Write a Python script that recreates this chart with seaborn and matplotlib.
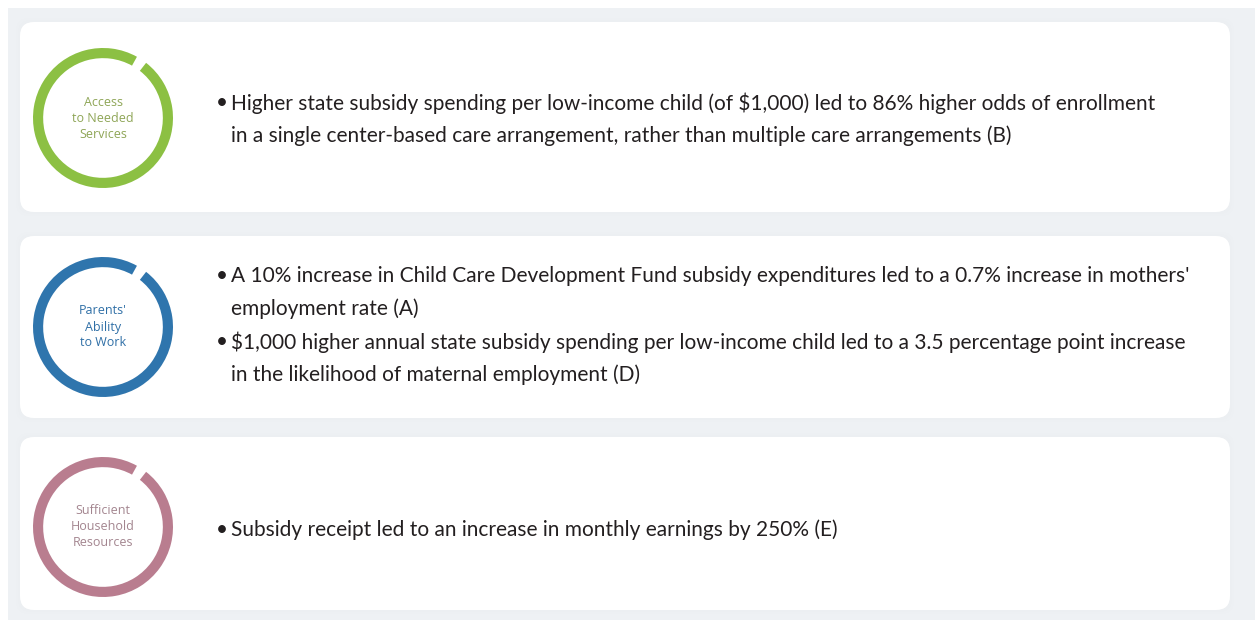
import matplotlib
matplotlib.use("Agg")
import matplotlib.pyplot as plt
import seaborn as sns
from matplotlib.patches import FancyBboxPatch, Rectangle

sns.set_theme(style="white")
plt.rcParams['font.family'] = ['Lato', 'DejaVu Sans']

# ---- data ----
categories = ["Access\nto Needed\nServices", "Parents'\nAbility\nto Work", "Sufficient\nHousehold\nResources"]
ring_fill = [0.975, 0.975, 0.975]   # filled share of each ring (small gap near the top)
ring_colors = ["#8cc043", "#2f75ad", "#b97d8f"]
label_colors = ["#8ea556", "#2f6fa6", "#a3858f"]
bullets = [
    ["Higher state subsidy spending per low-income child (of $1,000) led to 86% higher odds of enrollment\nin a single center-based care arrangement, rather than multiple care arrangements (B)"],
    ["A 10% increase in Child Care Development Fund subsidy expenditures led to a 0.7% increase in mothers'\nemployment rate (A)",
     "$1,000 higher annual state subsidy spending per low-income child led to a 3.5 percentage point increase\nin the likelihood of maternal employment (D)"],
    ["Subsidy receipt led to an increase in monthly earnings by 250% (E)"],
]

W, H = 1255, 624
fig = plt.figure(figsize=(W / 100, H / 100), dpi=100)
fig.patch.set_facecolor("white")
ax = fig.add_axes([0, 0, 1, 1])
ax.set_xlim(0, W)
ax.set_ylim(H, 0)
ax.axis("off")

# background
ax.add_patch(Rectangle((8, 8), W - 8, H - 12, facecolor="#eef1f4", edgecolor="none", zorder=0))

panels = [(22, 212), (236, 418), (437, 610)]
first_line_y = [103, 276, 530]
ring_cy = [118, 327, 527]
ring_cx = 103
R = 70
line_h = 33

for i, (top, bot) in enumerate(panels):
    # soft shadow
    for k in range(3):
        ax.add_patch(FancyBboxPatch((20 - k * 2, top - k * 2), 1210 + k * 4, (bot - top) + k * 4,
                                    boxstyle="round,pad=0,rounding_size=14",
                                    facecolor="#dde2e8", edgecolor="none", alpha=0.05, zorder=1))
    ax.add_patch(FancyBboxPatch((20, top), 1210, bot - top,
                                boxstyle="round,pad=0,rounding_size=14",
                                facecolor="white", edgecolor="none", zorder=2))

    # ring via pie in its own axes
    cy = ring_cy[i]
    rax = fig.add_axes([(ring_cx - R) / W, 1 - (cy + R) / H, 2 * R / W, 2 * R / H])
    rax.pie([ring_fill[i], 1 - ring_fill[i]], colors=[ring_colors[i], (1, 1, 1, 0)],
            startangle=52, counterclock=False, radius=1.0,
            wedgeprops=dict(width=0.145, edgecolor="none"))
    rax.set_xlim(-1, 1)
    rax.set_ylim(-1, 1)
    rax.set_aspect("equal")
    rax.axis("off")
    rax.text(0, 0, categories[i], ha="center", va="center", fontsize=9,
             color=label_colors[i], linespacing=1.3,
             family=['Open Sans', 'DejaVu Sans'])

    # bullets
    y = first_line_y[i]
    for b in bullets[i]:
        lines = b.split("\n")
        ax.text(216, y, "\u2022", ha="left", va="center", fontsize=15, color="#231f20", zorder=3)
        for ln in lines:
            ax.text(231, y, ln, ha="left", va="center", fontsize=15, color="#231f20", zorder=3)
            y += line_h

fig.savefig("out.png", dpi=100, facecolor="white")
